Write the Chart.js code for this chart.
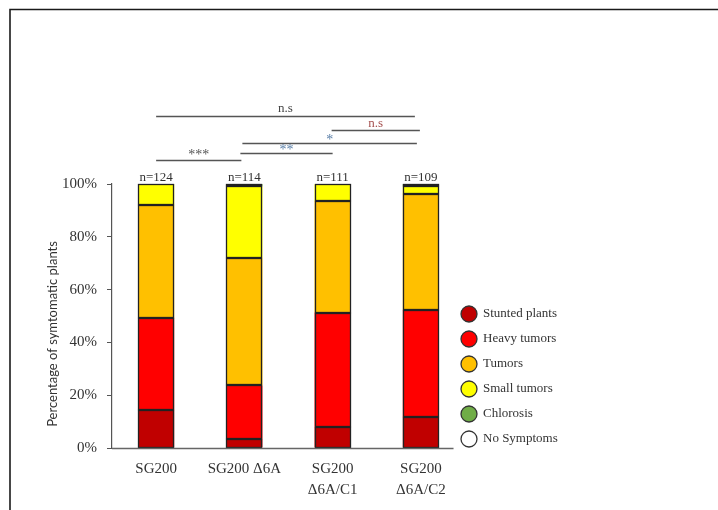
<!DOCTYPE html>
<html>
<head>
<meta charset="utf-8">
<script src="https://cdn.jsdelivr.net/npm/chart.js@4/dist/chart.umd.min.js"></script>
<style>
  html, body { margin: 0; padding: 0; background: #fff; }
  #wrap { width: 718px; height: 510px; position: relative; }
</style>
</head>
<body>
<div id="wrap"><canvas id="c" width="718" height="510"></canvas></div>
<script>
// Strains on the x axis
const strains = [['SG200'], ['SG200 Δ6A'], ['SG200', 'Δ6A/C1'], ['SG200', 'Δ6A/C2']];
// Number of plants scored per strain
const plantCounts = [124, 114, 111, 109];

// Percentage of plants in each symptom class
const stuntedPlants = [14.5, 3.5, 8.1, 11.9];
const heavyTumors   = [34.7, 20.2, 43.2, 40.4];
const tumors        = [42.7, 48.2, 42.3, 44.0];
const smallTumors   = [8.1, 27.2, 6.3, 2.8];
const chlorosis     = [0, 0.9, 0, 0.9];
const noSymptoms    = [0, 0, 0, 0];

// Y axis ticks (percent)
const yTicks = [0, 20, 40, 60, 80, 100];

// Pairwise comparisons: from strain index, to strain index, result text
const compFrom  = [0, 2, 1, 1, 0];
const compTo    = [3, 3, 3, 2, 1];
const compLabel = ['n.s', 'n.s', '*', '**', '***'];

const SERIF = '"Liberation Serif", "Times New Roman", serif';

const seriesDefs = [
  { label: 'Stunted plants', data: stuntedPlants, color: '#C00000' },
  { label: 'Heavy tumors',   data: heavyTumors,   color: '#FF0000' },
  { label: 'Tumors',         data: tumors,        color: '#FFC000' },
  { label: 'Small tumors',   data: smallTumors,   color: '#FFFF00' },
  { label: 'Chlorosis',      data: chlorosis,     color: '#70AD47' },
  { label: 'No Symptoms',    data: noSymptoms,    color: '#FFFFFF' }
];

// Crisp dark outline around every stacked segment
const segmentOutline = {
  id: 'segmentOutline',
  afterDatasetsDraw(chart) {
    const ctx = chart.ctx;
    ctx.save();
    ctx.strokeStyle = '#222';
    ctx.lineWidth = 1.3;
    chart.data.datasets.forEach((ds, di) => {
      const meta = chart.getDatasetMeta(di);
      meta.data.forEach(bar => {
        const p = bar.getProps(['x', 'y', 'base', 'width'], true);
        if (Math.abs(p.base - p.y) < 0.5) return;
        const left = Math.round(p.x - p.width / 2) + 0.5;
        const right = Math.round(p.x + p.width / 2) - 0.5;
        const top = Math.round(Math.min(p.y, p.base)) + 0.5;
        const bottom = Math.round(Math.max(p.y, p.base)) - 0.5;
        ctx.strokeRect(left, top, right - left, bottom - top);
      });
    });
    ctx.restore();
  }
};

// Frame, axis line, y title, bracket lines, n labels and circle legend
const decorations = {
  id: 'decorations',
  beforeDraw(chart) {
    const ctx = chart.ctx;
    ctx.save();
    ctx.fillStyle = '#fff';
    ctx.fillRect(0, 0, chart.width, chart.height);
    ctx.strokeStyle = '#1a1a1a';
    ctx.lineWidth = 1.6;
    ctx.beginPath();
    ctx.moveTo(10, chart.height);
    ctx.lineTo(10, 9.5);
    ctx.lineTo(chart.width, 9.5);
    ctx.stroke();
    ctx.restore();
  },
  afterDraw(chart) {
    const ctx = chart.ctx;
    const xs = chart.scales.x;
    const ys = chart.scales.y;
    const area = chart.chartArea;
    ctx.save();

    // x axis line, stopping a little past the last bar
    ctx.strokeStyle = '#666';
    ctx.lineWidth = 1.3;
    ctx.beginPath();
    ctx.moveTo(area.left, ys.getPixelForValue(0) + 0.5);
    ctx.lineTo(xs.getPixelForValue(3.37), ys.getPixelForValue(0) + 0.5);
    ctx.stroke();

    // y axis title
    ctx.save();
    ctx.translate(53, 334);
    ctx.rotate(-Math.PI / 2);
    ctx.fillStyle = '#333';
    ctx.font = '13px Lato, "Open Sans", sans-serif';
    ctx.textAlign = 'center';
    ctx.textBaseline = 'middle';
    ctx.fillText('Percentage of symtomatic plants', 0, 0);
    ctx.restore();

    // sample size above each bar
    ctx.fillStyle = '#333';
    ctx.font = '13px ' + SERIF;
    ctx.textAlign = 'center';
    ctx.textBaseline = 'alphabetic';
    plantCounts.forEach((n, i) => {
      ctx.fillText('n=' + n, xs.getPixelForValue(i), ys.getPixelForValue(100) - 3);
    });

    // comparison lines
    const rise = [68, 54.5, 41.5, 31, 24];
    const dxStart = [0, -1, -2, -4, 0];
    const dxEnd = [-6, -1, -4, 0, -3];
    const textColor = ['#444', '#A5504F', '#5A7FA8', '#5A7FA8', '#555'];
    const textShift = [-5, -4, 0, 0, -2];
    compLabel.forEach((txt, k) => {
      const y = Math.round(area.top - rise[k]) + 0.5;
      const x1 = xs.getPixelForValue(compFrom[k]) + dxStart[k];
      const x2 = xs.getPixelForValue(compTo[k]) + dxEnd[k];
      ctx.strokeStyle = '#555';
      ctx.lineWidth = 1.4;
      ctx.beginPath();
      ctx.moveTo(x1, y);
      ctx.lineTo(x2, y);
      ctx.stroke();
      ctx.fillStyle = textColor[k];
      ctx.font = (txt.startsWith('*') ? '14px ' : '13px ') + SERIF;
      ctx.textAlign = 'center';
      ctx.textBaseline = 'alphabetic';
      ctx.fillText(txt, (x1 + x2) / 2, y + textShift[k]);
    });

    // legend with circular markers
    const lx = 469, ly0 = 314, step = 25;
    chart.data.datasets.forEach((ds, i) => {
      const cy = ly0 + i * step;
      ctx.beginPath();
      ctx.arc(lx, cy, 8, 0, Math.PI * 2);
      ctx.fillStyle = ds.backgroundColor;
      ctx.fill();
      ctx.strokeStyle = '#333';
      ctx.lineWidth = 1.3;
      ctx.stroke();
      ctx.fillStyle = '#333';
      ctx.font = '13px ' + SERIF;
      ctx.textAlign = 'left';
      ctx.textBaseline = 'middle';
      ctx.fillText(ds.label, 483, cy);
    });
    ctx.restore();
  }
};

new Chart(document.getElementById('c'), {
  type: 'bar',
  data: {
    labels: strains,
    datasets: seriesDefs.map(s => ({
      label: s.label,
      data: s.data,
      backgroundColor: s.color,
      borderWidth: 0,
      inflateAmount: 0,
      barPercentage: 0.41,
      categoryPercentage: 1
    }))
  },
  options: {
    responsive: false,
    animation: false,
    devicePixelRatio: 1,
    layout: { padding: { left: 0, top: 184, right: 253, bottom: 0 } },
    plugins: {
      legend: { display: false },
      tooltip: { enabled: false }
    },
    scales: {
      x: {
        stacked: true,
        grid: { display: false },
        border: { display: false },
        ticks: {
          color: '#333',
          font: { family: SERIF, size: 15, lineHeight: 1.4 },
          padding: 3,
          maxRotation: 0,
          autoSkip: false
        },
        afterFit(scale) { scale.height = 62; }
      },
      y: {
        stacked: true,
        min: 0,
        max: 100,
        afterBuildTicks(scale) { scale.ticks = yTicks.map(v => ({ value: v })); },
        grid: { display: true, drawOnChartArea: false, drawTicks: true, tickLength: 5, color: '#555' },
        border: { display: true, color: '#555', width: 1.2 },
        ticks: {
          color: '#333',
          font: { family: SERIF, size: 15 },
          padding: 10,
          callback: v => v + '%'
        },
        afterFit(scale) { scale.width = 112; }
      }
    }
  },
  plugins: [segmentOutline, decorations]
});
</script>
</body>
</html>
